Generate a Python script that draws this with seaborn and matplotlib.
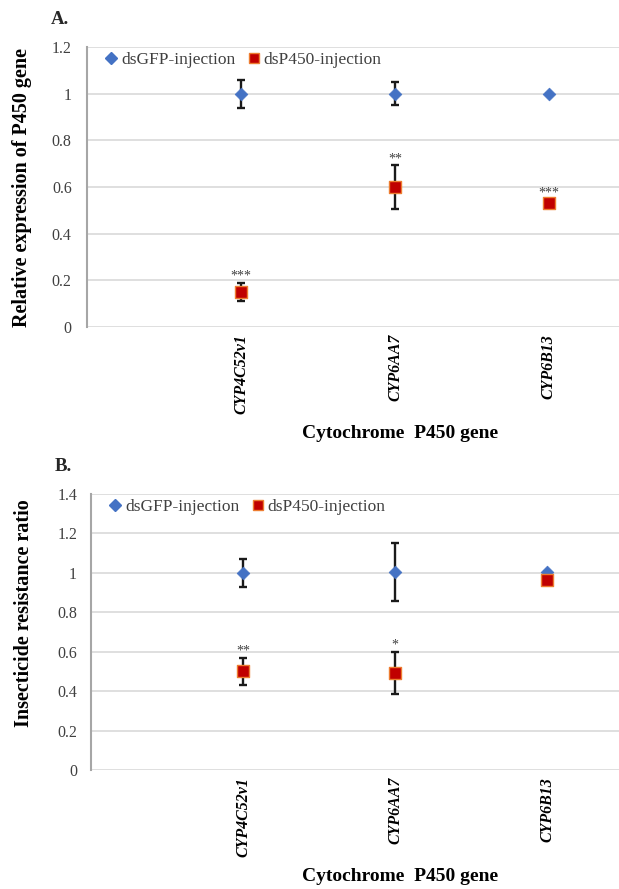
import numpy as np
import pandas as pd
import matplotlib
matplotlib.use("Agg")
import matplotlib.pyplot as plt
from matplotlib.lines import Line2D
import seaborn as sns

# ---------------- data ----------------
genes = ["CYP4C52v1", "CYP6AA7", "CYP6B13"]
groups = ["dsGFP-injection", "dsP450-injection"]

# Panel A: relative expression
a_gfp = [1.0, 1.0, 1.0]
a_gfp_err = [0.06, 0.05, 0.0]
a_p450 = [0.15, 0.60, 0.53]
a_p450_err = [0.04, 0.095, 0.0]
a_sig = ["***", "**", "***"]
a_sig_y = [0.218, 0.72, 0.575]

# Panel B: insecticide resistance ratio
b_gfp = [1.0, 1.005, 1.005]
b_gfp_err = [0.072, 0.147, 0.0]
b_p450 = [0.50, 0.49, 0.965]
b_p450_err = [0.068, 0.107, 0.0]
b_sig = ["**", "*", ""]
b_sig_y = [0.604, 0.632, 0.0]

a_yticks = [0, 0.2, 0.4, 0.6, 0.8, 1, 1.2]
b_yticks = [0, 0.2, 0.4, 0.6, 0.8, 1, 1.2, 1.4]

# ---------------- style ----------------
sns.set_theme(style="white")
plt.rcParams["font.family"] = ["Liberation Serif", "DejaVu Serif"]
plt.rcParams["axes.unicode_minus"] = False

BLUE = "#4472C4"
RED = "#C00000"
ORANGE = "#ED7D31"
GRID = "#D9D9D9"
TXT = "#404040"

fig = plt.figure(figsize=(6.19, 8.89), dpi=100)

W, H = 619.0, 889.0


def make_panel(rect, gfp, gfp_err, p450, p450_err, sig, sig_y, yticks,
               xlim_right, ylab, ylab_pos, xlab_pos, ypad):
    ax = fig.add_axes(rect)
    x = np.arange(len(genes))
    df = pd.DataFrame({
        "x": np.concatenate([x, x]),
        "value": list(gfp) + list(p450),
        "group": [groups[0]] * len(genes) + [groups[1]] * len(genes),
    })
    # error bars
    ax.errorbar(x, gfp, yerr=gfp_err, fmt="none", ecolor="#1a1a1a",
                elinewidth=1.7, capsize=3, capthick=1.7, zorder=3)
    ax.errorbar(x, p450, yerr=p450_err, fmt="none", ecolor="#1a1a1a",
                elinewidth=1.7, capsize=3, capthick=1.7, zorder=3)
    sns.scatterplot(data=df[df.group == groups[0]], x="x", y="value", ax=ax,
                    marker="D", s=42, color=BLUE, edgecolor=BLUE,
                    linewidth=0.5, zorder=4, legend=False)
    sns.scatterplot(data=df[df.group == groups[1]], x="x", y="value", ax=ax,
                    marker="s", s=72, color=RED, edgecolor=ORANGE,
                    linewidth=1.0, zorder=5, legend=False)
    for xi, s_, yy in zip(x, sig, sig_y):
        if s_:
            ax.text(xi, yy, s_, ha="center", va="center", fontsize=10,
                    color=TXT, zorder=6)

    ax.set_xlim(-1, xlim_right)
    ax.set_ylim(0, yticks[-1])
    ax.set_yticks(yticks)
    ax.set_yticklabels([f"{t:g}" for t in yticks], fontsize=11.5, color=TXT)
    ax.set_xticks(x)
    ax.set_xticklabels(genes, rotation=90, fontsize=11.5, fontweight="bold",
                       fontstyle="italic", color="black")
    ax.tick_params(axis="y", length=0, pad=ypad)
    ax.tick_params(axis="x", length=0, pad=5)
    ax.grid(axis="y", color=GRID, linewidth=1.2, zorder=0)
    ax.grid(axis="x", visible=False)
    ax.set_axisbelow(True)
    for sp in ["top", "right", "bottom"]:
        ax.spines[sp].set_visible(False)
    ax.spines["left"].set_color("#A6A6A6")
    ax.spines["left"].set_linewidth(1.5)

    ax.set_ylabel(ylab, fontsize=14.5, fontweight="bold", color="black")
    ax.yaxis.set_label_coords(*ylab_pos)
    ax.set_xlabel("Cytochrome  P450 gene", fontsize=14, fontweight="bold",
                  color="black")
    ax.xaxis.set_label_coords(*xlab_pos)

    handles = [
        Line2D([], [], marker="D", linestyle="none", color=BLUE,
               markersize=6, label=groups[0]),
        Line2D([], [], marker="s", linestyle="none", markerfacecolor=RED,
               markeredgecolor=ORANGE, markersize=7, label=groups[1]),
    ]
    ax.legend(handles=handles, loc="upper left", ncol=2, frameon=False,
              fontsize=12.5, handletextpad=0.05, columnspacing=0.6,
              handlelength=1.0, borderaxespad=0.2,
              bbox_to_anchor=(0.01, 1.02), labelcolor=TXT)
    return ax


# Panel A
axA = make_panel([87 / W, 1 - 327 / H, (W - 87) / W, 280 / H],
                 a_gfp, a_gfp_err, a_p450, a_p450_err, a_sig, a_sig_y,
                 a_yticks, 2.455, "Relative expression of P450 gene",
                 (-0.103, 0.5), (0.588, -0.35), 11)
# Panel B
axB = make_panel([91 / W, 1 - 770 / H, (W - 91) / W, 276 / H],
                 b_gfp, b_gfp_err, b_p450, b_p450_err, b_sig, b_sig_y,
                 b_yticks, 2.47, "Insecticide resistance ratio",
                 (-0.108, 0.569), (0.585, -0.355), 10)

fig.text(51 / W, 1 - 20 / H, "A.", fontsize=13.5, fontweight="bold",
         ha="left", va="center")
fig.text(55 / W, 1 - 466 / H, "B.", fontsize=13.5, fontweight="bold",
         ha="left", va="center")

fig.savefig("out.png", dpi=100)
